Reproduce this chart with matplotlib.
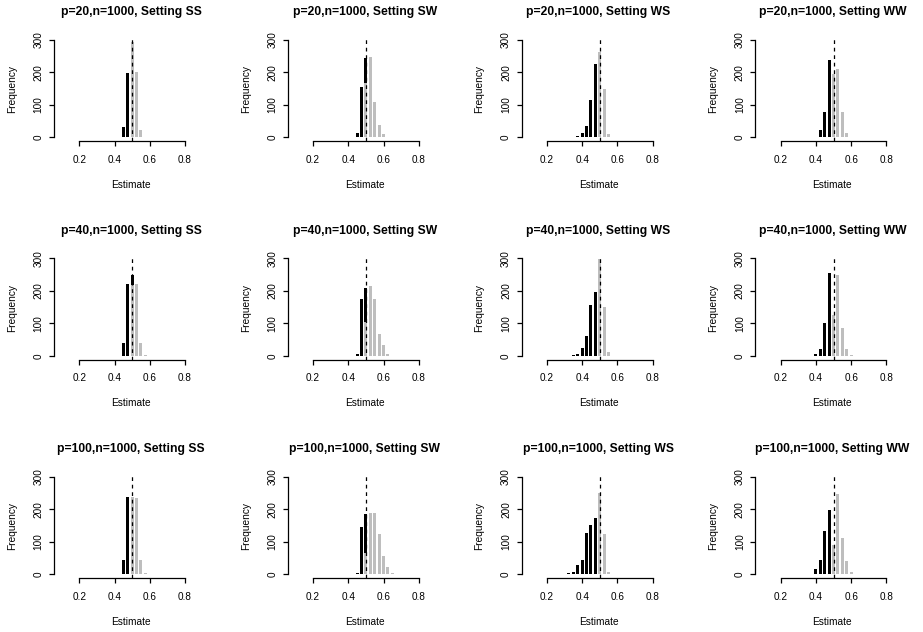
import matplotlib
matplotlib.use('Agg')
import matplotlib.pyplot as plt

plt.rcParams['font.family'] = ['Liberation Sans', 'DejaVu Sans']

# Bin centres of the histograms (width 0.025)
bins = [0.325, 0.35, 0.375, 0.4, 0.425, 0.45, 0.475, 0.5, 0.525, 0.55, 0.575, 0.6, 0.625, 0.65]

# Black series (estimates at or below 0.5) and grey series (above 0.5)
black_p20_SS = [0, 0, 0, 0, 0, 31, 197, 253, 0, 0, 0, 0, 0, 0]
grey_p20_SS = [0, 0, 0, 0, 0, 0, 0, 294, 202, 23, 0, 0, 0, 0]
black_p20_SW = [0, 0, 0, 0, 0, 12, 154, 245, 0, 0, 0, 0, 0, 0]
grey_p20_SW = [0, 0, 0, 0, 0, 0, 0, 166, 247, 109, 37, 10, 1, 0]
black_p20_WS = [0, 0, 3, 12, 34, 115, 225, 170, 0, 0, 0, 0, 0, 0]
grey_p20_WS = [0, 0, 0, 0, 0, 0, 0, 264, 150, 10, 0, 0, 0, 0]
black_p20_WW = [0, 0, 0, 2, 24, 79, 238, 160, 0, 0, 0, 0, 0, 0]
grey_p20_WW = [0, 0, 0, 0, 0, 0, 0, 195, 210, 77, 14, 0, 0, 0]

black_p40_SS = [0, 0, 0, 0, 0, 40, 220, 250, 0, 0, 0, 0, 0, 0]
grey_p40_SS = [0, 0, 0, 0, 0, 0, 0, 217, 220, 40, 3, 0, 0, 0]
black_p40_SW = [0, 0, 0, 0, 0, 5, 175, 209, 0, 0, 0, 0, 0, 0]
grey_p40_SW = [0, 0, 0, 0, 0, 0, 0, 103, 215, 174, 68, 32, 6, 0]
black_p40_WS = [0, 2, 7, 24, 60, 158, 198, 89, 0, 0, 0, 0, 0, 0]
grey_p40_WS = [0, 0, 0, 0, 0, 0, 0, 297, 152, 13, 0, 0, 0, 0]
black_p40_WW = [0, 0, 0, 5, 22, 100, 256, 120, 0, 0, 0, 0, 0, 0]
grey_p40_WW = [0, 0, 0, 0, 0, 0, 0, 126, 250, 85, 22, 3, 0, 0]

black_p100_SS = [0, 0, 0, 0, 2, 45, 238, 195, 0, 0, 0, 0, 0, 0]
grey_p100_SS = [0, 0, 0, 0, 0, 0, 0, 237, 235, 45, 3, 0, 0, 0]
black_p100_SW = [0, 0, 0, 0, 0, 3, 145, 185, 0, 0, 0, 0, 0, 0]
grey_p100_SW = [0, 0, 0, 0, 0, 0, 0, 65, 190, 190, 123, 55, 22, 5]
black_p100_WS = [5, 6, 28, 45, 126, 152, 175, 82, 0, 0, 0, 0, 0, 0]
grey_p100_WS = [0, 0, 0, 0, 0, 0, 0, 250, 125, 6, 0, 0, 0, 0]
black_p100_WW = [0, 0, 2, 17, 43, 135, 198, 85, 0, 0, 0, 0, 0, 0]
grey_p100_WW = [0, 0, 0, 0, 0, 0, 0, 90, 248, 113, 40, 7, 0, 0]

p_values = [20, 40, 100]
settings = ['SS', 'SW', 'WS', 'WW']
black = {
    (20, 'SS'): black_p20_SS, (20, 'SW'): black_p20_SW, (20, 'WS'): black_p20_WS, (20, 'WW'): black_p20_WW,
    (40, 'SS'): black_p40_SS, (40, 'SW'): black_p40_SW, (40, 'WS'): black_p40_WS, (40, 'WW'): black_p40_WW,
    (100, 'SS'): black_p100_SS, (100, 'SW'): black_p100_SW, (100, 'WS'): black_p100_WS, (100, 'WW'): black_p100_WW,
}
grey = {
    (20, 'SS'): grey_p20_SS, (20, 'SW'): grey_p20_SW, (20, 'WS'): grey_p20_WS, (20, 'WW'): grey_p20_WW,
    (40, 'SS'): grey_p40_SS, (40, 'SW'): grey_p40_SW, (40, 'WS'): grey_p40_WS, (40, 'WW'): grey_p40_WW,
    (100, 'SS'): grey_p100_SS, (100, 'SW'): grey_p100_SW, (100, 'WS'): grey_p100_WS, (100, 'WW'): grey_p100_WW,
}
xticks = [0.2, 0.4, 0.6, 0.8]
xticklabels = ['0.2', '0.4', '0.6', '0.8']
yticks = [0, 100, 200, 300]
yticklabels = ['0', '100', '200', '300']

W, H = 923, 632
fig = plt.figure(figsize=(W / 100, H / 100), dpi=100)

col_step, row_step = 233.8, 218.5
x_scale = 176.2  # px per unit
for r, p in enumerate(p_values):
    for c, s in enumerate(settings):
        ox, oy = col_step * c, row_step * r
        left, right = 54 + ox, 208 + ox
        top, bottom = 36.1 + oy, 141.2 + oy
        ax = fig.add_axes([left / W, 1 - bottom / H, (right - left) / W, (bottom - top) / H])
        x0 = 79.3 + ox
        ax.set_xlim(0.2 - (x0 - left) / x_scale, 0.2 + (right - x0) / x_scale)
        ax.set_ylim(-12, 312)
        ax.bar(bins, black[(p, s)], width=0.017, color='black', linewidth=0)
        ax.bar(bins, grey[(p, s)], width=0.017, color='#BEBEBE', linewidth=0)
        ax.axvline(0.5, color='black', lw=0.9, ls=(0, (3, 3)))
        for sp in ['top', 'right']:
            ax.spines[sp].set_visible(False)
        ax.spines['left'].set_bounds(0, 300)
        ax.spines['bottom'].set_bounds(0.2, 0.8)
        for sp in ['left', 'bottom']:
            ax.spines[sp].set_linewidth(0.9)
        ax.set_xticks(xticks)
        ax.set_xticklabels(xticklabels)
        ax.set_yticks(yticks)
        ax.set_yticklabels(yticklabels, rotation=90, va='center')
        ax.tick_params(axis='x', length=3.6, width=0.9, labelsize=7.2, pad=6)
        ax.tick_params(axis='y', length=3.6, width=0.9, labelsize=7.2, pad=4)
        ax.patch.set_alpha(0)
        fig.text((131 + ox) / W, 1 - (12.3 + oy) / H, f'p={p},n=1000, Setting {s}',
                 ha='center', va='center', fontsize=8.7, fontweight='bold')
        fig.text((131 + ox) / W, 1 - (185 + oy) / H, 'Estimate',
                 ha='center', va='center', fontsize=7.3)
        fig.text((12 + ox) / W, 1 - (89 + oy) / H, 'Frequency',
                 ha='center', va='center', fontsize=7.3, rotation=90)

fig.savefig('out.png', dpi=100)
